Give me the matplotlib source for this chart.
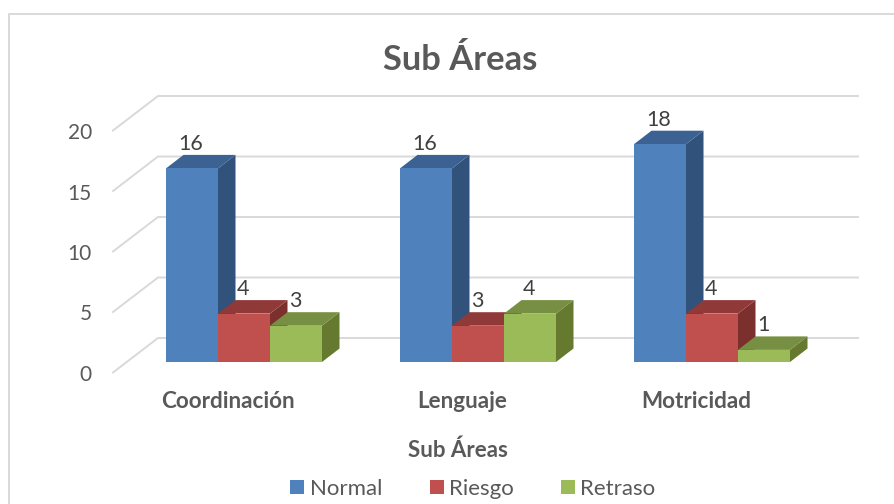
import matplotlib
matplotlib.use("Agg")
import matplotlib.pyplot as plt
from matplotlib.lines import Line2D
from matplotlib.patches import Polygon, Patch, Rectangle

categories = ["Coordinación", "Lenguaje", "Motricidad"]
series_names = ["Normal", "Riesgo", "Retraso"]
normal = [16, 16, 18]
riesgo = [4, 3, 4]
retraso = [3, 4, 1]
yticks = [0, 5, 10, 15, 20]

W, H = 895, 504
PX_X = 234.0            # pixels per category
PX_Y = 12.1             # pixels per value unit
X0, Y0 = 244.0, 362.0   # pixel of category 0 centre / value 0 on the bars' front

front = ["#4F81BD", "#C0504D", "#9BBB59"]
side = ["#31527B", "#7C302E", "#65792F"]
top = ["#3B6292", "#8F3A38", "#778F42"]
GRID = "#D9D9D9"
TXT = "#595959"

plt.rcParams["font.family"] = ["Lato", "DejaVu Sans"]
fig = plt.figure(figsize=(W / 100, H / 100), dpi=100)
ax = fig.add_axes([0, 0, 1, 1])
ax.set_xlim(-X0 / PX_X, (W - X0) / PX_X)
ax.set_ylim(-(H - Y0) / PX_Y, Y0 / PX_Y)
ax.axis("off")

def dx(p): return p / PX_X
def dy(p): return p / PX_Y

# chart frame: only the left and top edges are in view
fig.add_artist(Line2D([8.5 / W, 8.5 / W, 1], [0, 1 - 13.5 / H, 1 - 13.5 / H],
                      color="#D9D9D9", lw=1.4, transform=fig.transFigure))

# walls
BW = 52 / PX_X
DX, DY = dx(17.5), dy(13.5)
xl_front = dx(113 - X0)
xl_back = dx(158 - X0)
xr_back = dx(858 - X0)
y_front_off = dy(362 - 372.5)
y_back_off = dy(362 - 338)
for v in yticks:
    ax.plot([xl_front, xl_back, xr_back],
            [v + y_front_off, v + y_back_off, v + y_back_off],
            color=GRID, lw=1.4, solid_joinstyle="miter", zorder=1, clip_on=False)
    ax.text(dx(92 - X0), v + dy(362 - 375), str(v), ha="right", va="center",
            fontsize=15, color=TXT)

# 3D bars
for i, cat in enumerate(categories):
    for s, vals in enumerate([normal, riesgo, retraso]):
        v = vals[i]
        l = i - 1.5 * BW + s * BW
        r = l + BW
        z = 3 + s
        ax.add_patch(Polygon([(r, 0), (r + DX, DY), (r + DX, v + DY), (r, v)],
                             fc=side[s], ec="none", zorder=z))
        ax.add_patch(Polygon([(l, v), (l + DX, v + DY), (r + DX, v + DY), (r, v)],
                             fc=top[s], ec="none", zorder=z))
        ax.add_patch(Rectangle((l, 0), BW, v, fc=front[s], ec="none", zorder=z))
        ax.text((l + r) / 2 + dx(-1), v + DY + dy(11), str(v), ha="center", va="center",
                fontsize=15.5, color="#404040", zorder=10)
    ax.text(i + dx(-16), dy(362 - 402), cat, ha="center", va="center",
            fontsize=16.2, fontweight="bold", color=TXT)

ax.text(dx(460 - X0), dy(362 - 59.5), "Sub Áreas", ha="center", va="center",
        fontsize=24.8, fontweight="bold", color=TXT)
ax.text(dx(457.5 - X0), dy(362 - 450), "Sub Áreas", ha="center", va="center",
        fontsize=16, fontweight="bold", color=TXT)

handles = [Patch(fc=c, ec="none") for c in front]
fig.legend(handles, series_names, loc="center", bbox_to_anchor=(473 / W, 1 - 489 / H),
           ncol=3, frameon=False, fontsize=16, labelcolor=TXT,
           handlelength=0.63, handleheight=0.63, handletextpad=0.23, columnspacing=2.15,
           borderpad=0, borderaxespad=0)

fig.savefig("out.png", dpi=100)
